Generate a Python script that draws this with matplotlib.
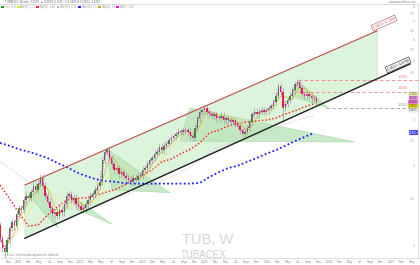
import matplotlib
matplotlib.use("Agg")
import matplotlib.dates as mdates
import matplotlib.pyplot as plt
import matplotlib.transforms as mtransforms
import numpy as np
import pandas as pd
from matplotlib.patches import Polygon, Rectangle

plt.rcParams["font.family"] = ["Liberation Sans", "DejaVu Sans"]

W, H = 420, 265

# --- weekly candles, one every two weeks (close prices, EUR)
first_bar = "2020-09-11"
bar_days = 14
first_open = 1.20
closes = [1.07, 0.98, 0.95, 1.05, 1.17, 1.23, 1.19, 1.32, 1.39, 1.37,
          1.49, 1.55, 1.52, 1.60, 1.69, 1.63, 1.72, 1.81, 1.69, 1.55,
          1.47, 1.39, 1.32, 1.34, 1.30, 1.37, 1.34, 1.44, 1.55, 1.57,
          1.49, 1.52, 1.44, 1.42, 1.37, 1.39, 1.44, 1.49, 1.55, 1.57,
          1.63, 1.69, 1.75, 2.11, 2.27, 2.30, 2.15, 2.04, 1.94, 1.97,
          1.87, 1.90, 1.84, 1.81, 1.78, 1.75, 1.81, 1.78, 1.84, 1.84,
          1.94, 1.97, 2.04, 2.11, 2.15, 2.23, 2.27, 2.37, 2.30, 2.39,
          2.43, 2.51, 2.56, 2.60, 2.65, 2.70, 2.70, 2.74, 2.74, 2.70,
          2.60, 2.56, 2.79, 3.04, 3.21, 3.26, 3.32, 3.21, 3.15, 3.10,
          3.15, 3.04, 3.04, 3.10, 2.99, 3.04, 2.99, 2.94, 2.99, 2.89,
          2.84, 2.74, 2.65, 2.70, 2.79, 2.94, 3.15, 3.21, 3.15, 3.21,
          3.26, 3.21, 3.26, 3.32, 3.38, 3.50, 3.69, 4.02, 3.82, 3.32,
          3.44, 3.56, 3.69, 3.88, 4.09, 4.16, 3.95, 3.75, 3.69, 3.75,
          3.69, 3.62, 3.62, 3.50]
spike_lows = {2: 0.90, 119: 2.95}

# --- long moving averages, sampled every 4 bars
ma_step = 4
ma50 = [1.70, 1.51, 1.33, 1.19, 1.20, 1.31, 1.40, 1.49, 1.51, 1.52,
        1.55, 1.59, 1.63, 1.69, 1.78, 1.85, 1.94, 2.08, 2.13, 2.23,
        2.32, 2.45, 2.67, 2.74, 2.84, 2.91, 2.94, 2.97, 2.99, 3.04,
        3.15, 3.24, 3.35, 3.44]
ma100 = [2.08, 1.97, 1.85, 1.75, 1.64, 1.55, 1.45, 1.39, 1.37, 1.39,
         1.43, 1.47, 1.51, 1.55, 1.60, 1.64, 1.70, 1.76, 1.82, 1.90,
         1.99, 2.11, 2.25, 2.37, 2.43, 2.49, 2.56, 2.63, 2.72, 2.79,
         2.89, 2.97, 3.04, 3.12]
ma200 = [2.45, 2.39, 2.32, 2.27, 2.21, 2.15, 2.06, 1.99, 1.90, 1.84,
         1.79, 1.76, 1.75, 1.73, 1.72, 1.72, 1.72, 1.72, 1.72, 1.72,
         1.72, 1.73, 1.82, 1.90, 1.97, 2.01, 2.08, 2.15, 2.23, 2.30,
         2.39, 2.49, 2.58, 2.67]

# --- drawings
channel_dates = ["2021-02-05", "2026-10-10"]
channel_top = [1.70, 6.49]
channel_low = [1.07, 4.28]
support_end = ("2027-04-22", 4.87)
triangles = [
    (["2021-05-10", "2021-03-24", "2021-08-18"], [1.81, 1.49, 1.17]),
    (["2021-10-10", "2021-12-14", "2022-07-02"], [1.59, 1.37, 1.21]),
    (["2022-06-03", "2022-07-02", "2023-06-08"], [2.32, 1.63, 1.59]),
    (["2023-10-04", "2023-08-06", "2026-06-03"], [3.32, 2.49, 2.47]),
    (["2025-07-02", "2025-05-28", "2025-12-26"], [4.20, 3.69, 3.32]),
]
levels = [("2025-07-02", 4.23, "#f08080", "4.2300"),
          ("2025-07-02", 3.82, "#f08080", "3.8200"),
          ("2025-12-12", 3.32, "#999999", "3.3200")]
# 3.5 and 4 sit under the value badges on the price scale
price_ticks = [1, 1.5, 2, 2.5, 3, 4.5, 5, 5.5, 6, 6.5, 7, 7.5, 8]
badges = [(3.75, "#ffff99", "3.7200"), (3.62, "#ff88ff", "3.6300"),
          (3.50, "#ff66dd", "3.5400"), (3.38, "#ffdd00", "3.4500"),
          (3.26, "#ffffff", "3.3600"), (2.68, "#3333ff", "2.6800")]

d2n = mdates.datestr2num

fig = plt.figure(figsize=(W / 100, H / 100), dpi=100)
ax = fig.add_axes([0, 7 / H, 418 / W, 254 / H])
ax.set_yscale("log")
ax.set_ylim(0.901, 8.20)
ax.set_xlim(d2n("2020-09-11"), d2n("2027-06-08"))
ax.set_yticks([])
ax.minorticks_off()
ax.spines["left"].set_visible(False)
for s in ["top", "bottom", "right"]:
    ax.spines[s].set_color("#d0d0d0")
    ax.spines[s].set_linewidth(0.5)

# channel
cx = [d2n(d) for d in channel_dates]
ax.add_patch(Polygon([(cx[0], channel_top[0]), (cx[1], channel_top[1]),
                      (cx[1], channel_low[1]), (cx[0], channel_low[0])],
                     closed=True, facecolor="#dcf3dc", edgecolor="#b8d8b8",
                     lw=0.4, zorder=1))
for tx, ty in triangles:
    ax.add_patch(Polygon(list(zip([d2n(d) for d in tx], ty)), closed=True,
                         facecolor="#b8e4b8", edgecolor="#8fcf8f", lw=0.4,
                         alpha=0.75, zorder=2))
ax.plot(cx, channel_top, color="#c0504d", lw=0.8, zorder=6)
ax.plot([cx[0], d2n(support_end[0])], [channel_low[0], support_end[1]],
        color="#202020", lw=1.0, zorder=6)

# moving averages
dates = pd.date_range(first_bar, periods=len(closes), freq=f"{bar_days}D")
x = mdates.date2num(dates)
xs = x[::ma_step]
c = np.array(closes)
ax.plot(xs, ma100, color="#c8c8c8", lw=0.7, ls=(0, (1, 1.2)), zorder=3)
ax.plot(xs, ma200, color="#1f1fff", lw=1.3, ls=(0, (1, 1.3)), zorder=3)
ax.plot(xs, ma50, color="#ff2a2a", lw=1.1, ls=(0, (1, 1.3)), zorder=3)
ser = pd.Series(c)
ax.plot(x, ser.rolling(10, min_periods=1).mean(), color="#f0e68c", lw=0.5, zorder=3)
ax.plot(x, ser.rolling(5, min_periods=1).mean(), color="#c8b400", lw=0.4, zorder=3)

# candles
o = np.r_[first_open, c[:-1]]
hi = np.maximum(o, c) * 1.03
lo = np.minimum(o, c) * 0.97
for i, v in spike_lows.items():
    lo[i] = v
up = c >= o
ax.vlines(x, lo, hi, color="#a0a0a0", lw=0.5, zorder=4)
ax.bar(x, np.maximum(np.abs(c - o), 0.012), bottom=np.minimum(o, c),
       width=bar_days * 0.58, color=np.where(up, "#1aa31a", "#e32626"),
       lw=0, zorder=5)
ax.plot(x, ser.rolling(2, min_periods=1).mean(), color="#ff00ff", lw=0.9,
        ls=(0, (1, 1.2)), zorder=5)

# horizontal levels
blend = mtransforms.blended_transform_factory(ax.transAxes, ax.transData)
for d, p, col, lab in levels:
    ax.plot([d2n(d), ax.get_xlim()[1]], [p, p], color=col, lw=0.6,
            ls=(0, (4, 3)), zorder=3)
    ax.text(0.975, p * 1.012, lab, transform=blend, fontsize=2.3, color=col,
            ha="right", va="bottom", zorder=7)

# channel labels
ax.text(d2n("2026-11-20"), 6.95, "5.9400 / 6.7300", fontsize=2.4,
        color="#c0504d", rotation=24, ha="center", va="center", zorder=7,
        bbox=dict(boxstyle="square,pad=0.3", fc="white", ec="#c0504d", lw=0.4))
ax.text(d2n("2027-02-11"), 4.83, "4.4100 / 4.8700", fontsize=2.4,
        color="#202020", rotation=24, ha="center", va="center", zorder=7,
        bbox=dict(boxstyle="square,pad=0.3", fc="white", ec="#202020", lw=0.4))

# price scale
for p in price_ticks:
    ax.text(0.993, p, f"{p:g}", transform=blend, fontsize=2.6,
            color="#a8a8a8", ha="right", va="center")
for p, col, lab in badges:
    ax.text(0.999, p, lab, transform=blend, fontsize=2.0, ha="right",
            va="center", color="white" if col == "#3333ff" else "#333333",
            zorder=8,
            bbox=dict(boxstyle="square,pad=0.12", fc=col, ec="#bbbbbb", lw=0.3))

# date axis
ticks, labels = [], []
for m in pd.date_range("2020-11-01", "2027-05-01", freq="2MS"):
    ticks.append(mdates.date2num(m))
    labels.append(str(m.year) if m.month == 1 else
                  {3: "Mar", 5: "May", 7: "Jul", 9: "Sept", 11: "Nov"}[m.month])
ax.set_xticks(ticks)
ax.set_xticklabels(labels, fontsize=2.4, color="#8a8a8a")
ax.tick_params(axis="x", length=0, pad=1.2)

# watermark
ax.text(0.497, 0.07, "TUB, W", transform=ax.transAxes, fontsize=10.5,
        color="#d6d6d6", ha="center", va="center", zorder=0)
ax.text(0.488, 0.013, "TUBACEX", transform=ax.transAxes, fontsize=7,
        color="#cfcfcf", ha="center", va="center", zorder=0)
ax.text(0.01, 0.012, "\u2699 Prices / historical data adjusted after dividends",
        transform=ax.transAxes, fontsize=1.8, color="#888888", va="center")

# header
fig.text(0.012, 1 - 2 / H, "TUBACEX  Weekly  3.5000  \u25b2 0.0600 (1.74%)  O:3.4400 H:3.5200 L:3.4200",
         fontsize=2.0, color="#666666", va="center")
fig.text(0.99, 1 - 2 / H, "www.prorealtime.com", fontsize=2.0, color="#888888",
         va="center", ha="right")
chips = [(1, "#1aa31a", "Price: 3.50"), (17, "#e6e600", "MA(20): 3.72"),
         (36, "#ff2a2a", "MA(50): 3.44"), (57, "#b0b0b0", "MA(100): 3.12"),
         (78, "#1f1fff", "MA(200): 2.67"), (98, "#c8b400", "MA(10): 3.63"),
         (116, "#ff00ff", "MA(5): 3.54")]
for px, col, lab in chips:
    fig.add_artist(Rectangle((px / W, 1 - 8 / H), 2.5 / W, 2.5 / H,
                             transform=fig.transFigure, fc=col, ec="none"))
    fig.text((px + 3.5) / W, 1 - 6.8 / H, lab, fontsize=1.8, color="#999999",
             va="center")

fig.savefig("out.png", dpi=100)
